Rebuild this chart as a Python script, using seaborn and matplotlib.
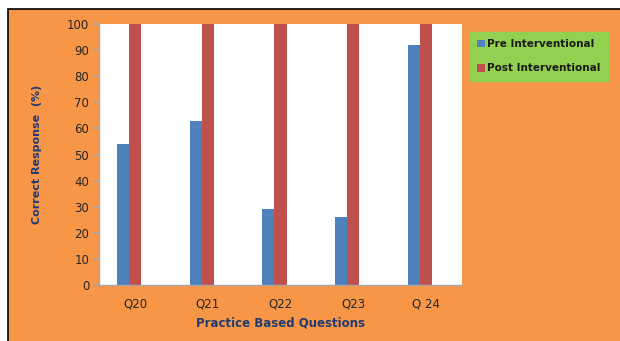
import matplotlib
matplotlib.use("Agg")
import matplotlib.pyplot as plt
from matplotlib.patches import Rectangle
import seaborn as sns
import pandas as pd

questions = ["Q20", "Q21", "Q22", "Q23", "Q 24"]
pre_values = [54, 63, 29, 26, 92]
post_values = [100, 100, 100, 100, 100]
series = ["Pre Interventional", "Post Interventional", "Spacer"]
colors = ["#4F81BD", "#C0504D", "#FFFFFF"]

df = pd.DataFrame({
    "Question": questions * 2,
    "Series": [series[0]] * len(questions) + [series[1]] * len(questions),
    "Value": pre_values + post_values,
})

sns.set_theme(style="white")
plt.rcParams["font.family"] = ["DejaVu Sans"]

fig = plt.figure(figsize=(6.2, 3.41), dpi=100)
fig.patch.set_facecolor("white")
fig.patches.append(Rectangle((8 / 620, -0.1), 1.2, (341 - 9) / 341 + 0.1, transform=fig.transFigure,
                             facecolor="#F79646", edgecolor="black", linewidth=1.2, zorder=-10))

ax = fig.add_axes([99 / 620, 56 / 341, 363 / 620, 261 / 341])
sns.barplot(data=df, x="Question", y="Value", hue="Series", hue_order=series,
            palette=dict(zip(series, colors)), width=0.5, dodge=True, ax=ax,
            saturation=1, edgecolor="none", linewidth=0, legend=False)

ax.set_facecolor("white")
ax.set_ylim(0, 100)
ax.set_xlim(-0.5, 4.5)
ax.set_yticks(range(0, 101, 10))
for s in ["top", "right"]:
    ax.spines[s].set_visible(False)
for s in ["left", "bottom"]:
    ax.spines[s].set_color("#A6A6A6")
    ax.spines[s].set_linewidth(1.0)
ax.tick_params(axis="y", which="both", left=True, length=4, color="#A6A6A6",
               labelsize=8.5, labelcolor="#262626", pad=3)
ax.tick_params(axis="x", bottom=False, labelsize=8.5, labelcolor="#262626", pad=3)

ax.set_xlabel("Practice Based Questions", fontsize=8.5, fontweight="bold", color="#1F3B73", labelpad=4)
ax.set_ylabel("Correct Response  (%)", fontsize=8, fontweight="bold", color="#1F3B73", labelpad=18)

handles = [Rectangle((0, 0), 1, 1, facecolor=c, edgecolor="none") for c in colors[:2]]
leg = fig.legend(handles, series[:2], loc="upper left", bbox_to_anchor=(470 / 620, 309 / 341),
                 bbox_transform=fig.transFigure, frameon=True, fancybox=False,
                 facecolor="#92D050", edgecolor="#92D050", framealpha=1,
                 handlelength=0.75, handleheight=0.75, handletextpad=0.2,
                 borderaxespad=0, borderpad=0.7, labelspacing=1.35,
                 prop={"size": 7.5, "weight": "bold"})
for t in leg.get_texts():
    t.set_color("#1a1a1a")

fig.savefig("out.png", dpi=100)
